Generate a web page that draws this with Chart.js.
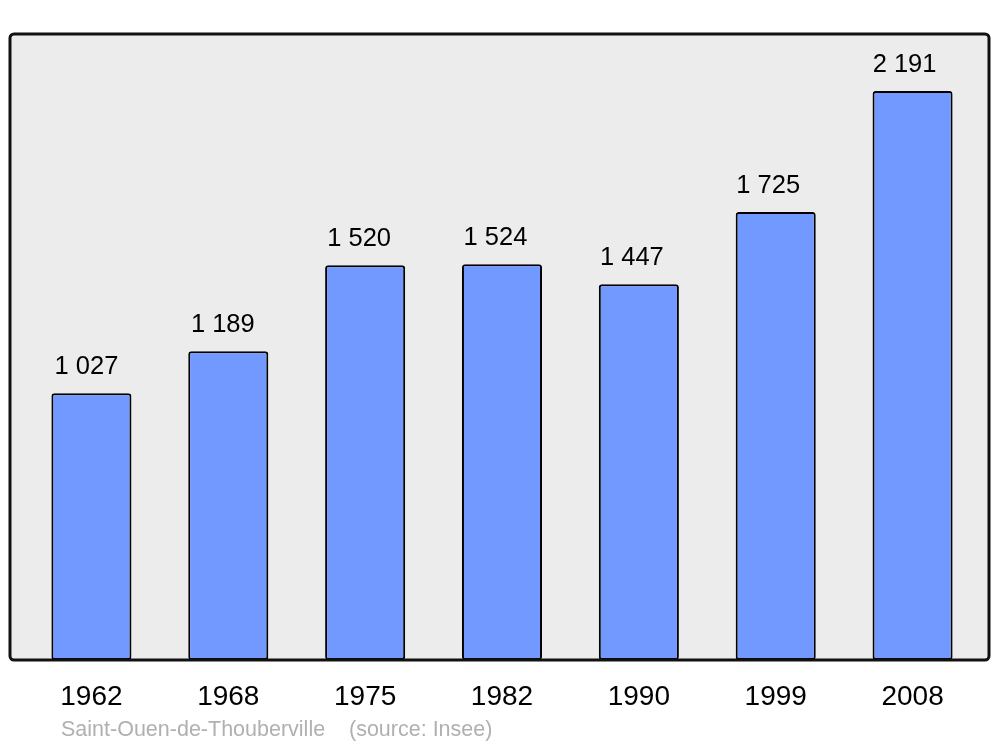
<!DOCTYPE html>
<html>
<head>
<meta charset="utf-8">
<script src="https://cdn.jsdelivr.net/npm/chart.js@4.4.0/dist/chart.umd.min.js"></script>
<style>
  html, body { margin: 0; padding: 0; background: #fff; }
  #wrap { width: 1000px; height: 747px; }
</style>
</head>
<body>
<div id="wrap"><canvas id="chart"></canvas></div>
<script>
// Population data (source: Insee)
const years = ['1962', '1968', '1975', '1982', '1990', '1999', '2008'];
const population = [1027, 1189, 1520, 1524, 1447, 1725, 2191];
const valueLabels = ['1 027', '1 189', '1 520', '1 524', '1 447', '1 725', '2 191'];
const townName = 'Saint-Ouen-de-Thouberville';
const sourceNote = '(source: Insee)';

const FONT = "'Liberation Sans', Arial, sans-serif";

// Grey panel with rounded black frame behind the bars
const panelPlugin = {
    id: 'panel',
    beforeDatasetsDraw(chart) {
        const { ctx, chartArea } = chart;
        const x = chartArea.left - 13, y = chartArea.top;
        const w = chartArea.right + 8 - x, h = chartArea.bottom - y;
        ctx.save();
        ctx.beginPath();
        ctx.roundRect(x, y, w, h, 4);
        ctx.fillStyle = '#ececec';
        ctx.fill();
        ctx.restore();
    },
    afterDatasetsDraw(chart) {
        const { ctx, chartArea } = chart;
        const x = chartArea.left - 13, y = chartArea.top;
        const w = chartArea.right + 8 - x, h = chartArea.bottom - y;
        ctx.save();
        ctx.beginPath();
        ctx.roundRect(x, y, w, h, 4);
        ctx.lineWidth = 3;
        ctx.strokeStyle = '#111';
        ctx.stroke();

        // value labels above each bar
        const meta = chart.getDatasetMeta(0);
        ctx.fillStyle = '#000';
        ctx.font = '25.5px ' + FONT;
        ctx.textAlign = 'center';
        ctx.textBaseline = 'middle';
        meta.data.forEach((bar, i) => {
            ctx.fillText(valueLabels[i], bar.x - 5 - i * 0.5, bar.y - 26);
        });

        // caption under the axis
        ctx.font = '21.5px ' + FONT;
        ctx.fillStyle = '#b0b0b0';
        ctx.textAlign = 'left';
        ctx.fillText(townName, 61, 730);
        ctx.fillText(sourceNote, 349, 730);
        ctx.restore();
    }
};

new Chart(document.getElementById('chart'), {
    type: 'bar',
    data: {
        labels: years,
        datasets: [{
            data: population,
            backgroundColor: '#7299ff',
            borderColor: '#000',
            borderWidth: 2,
            borderRadius: 3,
            borderSkipped: false,
            barPercentage: 0.585,
            categoryPercentage: 1
        }]
    },
    options: {
        responsive: true,
        maintainAspectRatio: false,
        animation: false,
        layout: { padding: { left: 23, right: 19, top: 34, bottom: 0 } },
        plugins: {
            legend: { display: false },
            tooltip: { enabled: false }
        },
        scales: {
            x: {
                grid: { display: false, drawTicks: false },
                border: { display: false },
                ticks: {
                    color: '#000',
                    padding: 20,
                    font: { family: FONT, size: 28 }
                },
                afterFit(scale) { scale.height = 87; }
            },
            y: {
                display: false,
                min: 0,
                max: 2410
            }
        }
    },
    plugins: [panelPlugin]
});
</script>
</body>
</html>
